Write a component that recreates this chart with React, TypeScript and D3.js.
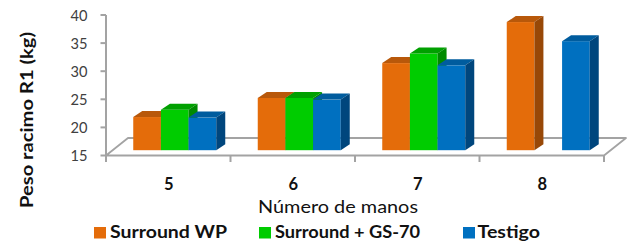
import React from "react";
import * as d3 from "d3";

const categories = ["5", "6", "7", "8"];
const seriesNames = ["Surround WP", "Surround + GS-70", "Testigo"];
const surroundWP: (number | null)[] = [20.9, 24.3, 30.5, 37.8];
const surroundGS: (number | null)[] = [22.2, 24.3, 32.2, null];
const testigo: (number | null)[] = [20.8, 24.0, 30.1, 34.4];
const yTicks = [15, 20, 25, 30, 35, 40];
const xTitle = "Número de manos";
const yTitle = "Peso racimo R1 (kg)";

const seriesValues = [surroundWP, surroundGS, testigo];
const colors = [
  { front: "#E46C0A", top: "#B8580A", side: "#984807" },
  { front: "#00CC00", top: "#00A000", side: "#008A00" },
  { front: "#0070C0", top: "#005C9E", side: "#00467D" },
];

const W = 630;
const H = 243;
const FONT = "Lato, 'Open Sans', sans-serif";

export default function App() {
  const x = d3.scaleBand<string>().domain(categories).range([106, 604]);
  const xInner = d3
    .scaleBand<string>()
    .domain(seriesNames)
    .range([0, x.bandwidth()])
    .paddingInner(0)
    .paddingOuter(0.75);
  const y = d3.scaleLinear().domain([15, 40]).range([155.5, 15]);

  // oblique depth geometry
  const floorD = { dx: 22, dy: -17.5 };
  const barF = { dx: 6.5, dy: -5.3 };
  const barD = { dx: 9, dy: -6 };

  const y0 = y(15);
  const xl = x.range()[0];
  const xr = x.range()[1];

  const bars: React.ReactNode[] = [];
  categories.forEach((c, ci) => {
    seriesNames.forEach((s, si) => {
      const v = seriesValues[si][ci];
      if (v == null) return;
      const bx = (x(c) as number) + (xInner(s) as number) + barF.dx;
      const bw = xInner.bandwidth();
      const top = y(v) + barF.dy;
      const bot = y0 + barF.dy;
      const col = colors[si];
      bars.push(
        <g key={`${c}-${s}`}>
          <rect x={bx} y={top} width={bw} height={bot - top} fill={col.front} />
          <polygon
            points={`${bx},${top} ${bx + bw},${top} ${bx + bw + barD.dx},${top + barD.dy} ${bx + barD.dx},${top + barD.dy}`}
            fill={col.top}
          />
          <polygon
            points={`${bx + bw},${top} ${bx + bw + barD.dx},${top + barD.dy} ${bx + bw + barD.dx},${bot + barD.dy} ${bx + bw},${bot}`}
            fill={col.side}
          />
        </g>
      );
    });
  });

  const axisColor = "#a3a3a3";
  const xTickPos = [...categories.map((c) => x(c) as number), xr];

  const legendItems = [
    { name: seriesNames[0], sx: 94, tx: 110, tl: 117 },
    { name: seriesNames[1], sx: 259, tx: 275, tl: 145 },
    { name: seriesNames[2], sx: 463, tx: 477.5, tl: 62.5 },
  ];

  return (
    <svg
      width={W}
      height={H}
      style={{ position: "absolute", left: 0, top: 0, background: "#fff" }}
      fontFamily={FONT}
    >
      <rect x={0} y={0} width={W} height={H} fill="#fff" />
      {/* floor */}
      <polygon
        points={`${xl},${y0} ${xr},${y0} ${xr + floorD.dx},${y0 + floorD.dy} ${xl + floorD.dx},${y0 + floorD.dy}`}
        fill="#fff"
        stroke={axisColor}
        strokeWidth={1.8}
        strokeLinejoin="round"
      />
      {/* y axis */}
      <line x1={xl} x2={xl} y1={y(40)} y2={y0 + 6.5} stroke={axisColor} strokeWidth={2} />
      {yTicks.map((t) => (
        <g key={t}>
          <line x1={xl - 5.5} x2={xl} y1={y(t)} y2={y(t)} stroke={axisColor} strokeWidth={2} />
          <text
            x={87.5}
            y={y(t)}
            dy="0.4em"
            textAnchor="end"
            fontSize={14.5}
            fill="#404040"
            textLength={17}
            lengthAdjust="spacingAndGlyphs"
          >
            {t}
          </text>
        </g>
      ))}
      {/* x ticks */}
      {xTickPos.map((p, i) => (
        <line key={i} x1={p} x2={p} y1={y0} y2={y0 + 6.5} stroke={axisColor} strokeWidth={2} />
      ))}
      {bars}
      {/* category labels */}
      {categories.map((c) => (
        <text
          key={c}
          x={(x(c) as number) + x.bandwidth() / 2 + 0.5}
          y={190}
          textAnchor="middle"
          fontSize={16.5}
          fontWeight="bold"
          fill="#111"
        >
          {c}
        </text>
      ))}
      <text
        x={258}
        y={213.3}
        fontSize={16.5}
        fill="#111"
        textLength={160}
        lengthAdjust="spacingAndGlyphs"
      >
        {xTitle}
      </text>
      <text
        transform="translate(33,208) rotate(-90)"
        fontSize={16.5}
        fontWeight="bold"
        fill="#111"
        textLength={176}
        lengthAdjust="spacingAndGlyphs"
      >
        {yTitle}
      </text>
      {legendItems.map((l, i) => (
        <g key={l.name}>
          <rect x={l.sx} y={227} width={12} height={11.5} fill={colors[i].front} />
          <text
            x={l.tx}
            y={238.3}
            fontSize={16.5}
            fontWeight="bold"
            fill="#111"
            textLength={l.tl}
            lengthAdjust="spacingAndGlyphs"
          >
            {l.name}
          </text>
        </g>
      ))}
    </svg>
  );
}
